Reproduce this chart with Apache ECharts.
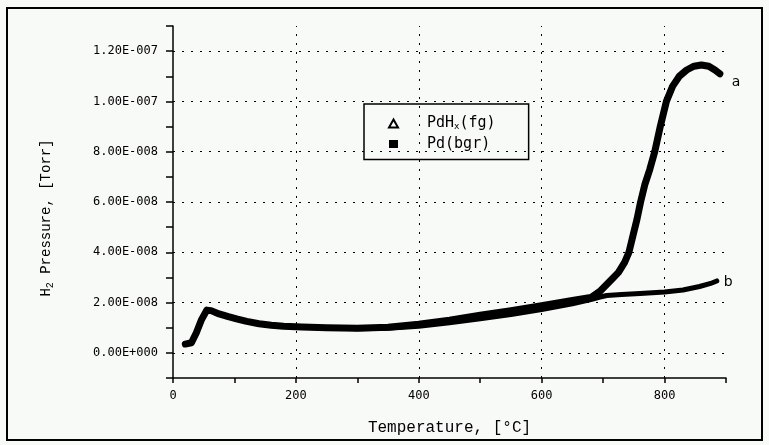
<!DOCTYPE html>
<html>
<head>
<meta charset="utf-8">
<script src="https://cdn.jsdelivr.net/npm/echarts@6/dist/echarts.min.js"></script>
<style>
  html, body { margin: 0; padding: 0; background: #f8faf7; }
  #chart { width: 769px; height: 445px; }
</style>
</head>
<body>
<div id="chart"></div>
<script>
// pressures are in units of 1e-8 Torr
var tempA = [20, 30, 38, 46, 55, 62, 75, 90, 105, 120, 140, 160, 180, 210, 250, 300, 350, 400, 450, 500, 550, 600, 650, 680,
  695, 705, 715, 725, 735, 742, 748, 755, 761, 768, 776, 784, 793, 803, 813, 824, 836, 848, 860, 872, 882, 890];
var presA = [0.35, 0.4, 0.8, 1.3, 1.7, 1.68, 1.55, 1.44, 1.34, 1.25, 1.16, 1.1, 1.06, 1.03, 1.0, 0.98, 1.02, 1.14, 1.3, 1.5, 1.68, 1.88, 2.08, 2.2,
  2.45, 2.7, 2.95, 3.2, 3.6, 4.0, 4.6, 5.3, 6.0, 6.7, 7.3, 8.0, 9.0, 10.0, 10.6, 11.0, 11.25, 11.4, 11.45, 11.4, 11.25, 11.1];

var tempB = [20, 30, 38, 46, 55, 62, 75, 90, 105, 120, 140, 160, 180, 210, 250, 300, 350, 400, 450, 500, 550, 600, 650, 680,
  695, 706, 730, 760, 800, 830, 857, 875, 885];
var presB = [0.35, 0.4, 0.8, 1.3, 1.7, 1.68, 1.55, 1.44, 1.34, 1.25, 1.16, 1.1, 1.06, 1.03, 1.0, 0.96, 0.98, 1.06, 1.2, 1.36, 1.52, 1.72, 1.95, 2.12,
  2.22, 2.28, 2.32, 2.36, 2.42, 2.5, 2.64, 2.76, 2.86];

var xTickLabels = ['0', '200', '400', '600', '800'];
var xGrid = [200, 400, 600, 800];
var yTickLabels = ['0.00E+000', '2.00E-008', '4.00E-008', '6.00E-008', '8.00E-008', '1.00E-007', '1.20E-007'];
var yGrid = [0, 2, 4, 6, 8, 10, 12];

function pairs(xs, ys) {
  return xs.map(function (x, i) { return [x, ys[i]]; });
}

var chart = echarts.init(document.getElementById('chart'));

// dotted grid only at the labelled ticks
var gridLines = [];
yGrid.forEach(function (v) { gridLines.push({ yAxis: v }); });
xGrid.forEach(function (v) { gridLines.push({ xAxis: v }); });

var option = {
  animation: false,
  backgroundColor: '#f8faf7',
  graphic: [{
    type: 'rect',
    shape: { x: 7, y: 8, width: 755, height: 432 },
    style: { fill: 'none', stroke: '#000', lineWidth: 2 },
    silent: true
  }],
  grid: { left: 173, right: 43, top: 26, bottom: 67 },
  legend: {
    orient: 'vertical',
    left: 364,
    top: 104,
    padding: [12, 33, 8, 24],
    itemGap: 5,
    itemWidth: 9,
    itemHeight: 8,
    borderColor: '#000',
    borderWidth: 1.5,
    borderRadius: 0,
    textStyle: {
      color: '#000',
      padding: [0, 0, 0, 24],
      rich: {
        t: { fontFamily: 'DejaVu Sans Mono', fontSize: 15, color: '#000', lineHeight: 16 },
        s: { fontFamily: 'DejaVu Sans Mono', fontSize: 9, color: '#000', verticalAlign: 'bottom', padding: [7, 0, 0, 0] }
      }
    },
    formatter: function (name) {
      if (name === 'PdHx(fg)') return '{t|PdH}{s|x}{t|(fg)}';
      return '{t|' + name + '}';
    },
    data: [
      { name: 'PdHx(fg)', icon: 'emptyTriangle', itemStyle: { color: '#000', borderColor: '#000', borderWidth: 1.2 } },
      { name: 'Pd(bgr)', icon: 'rect' }
    ]
  },
  xAxis: {
    type: 'value',
    min: 0,
    max: 900,
    interval: 100,
    name: 'Temperature, [°C]',
    nameLocation: 'middle',
    nameGap: 42,
    nameTextStyle: { fontFamily: 'Liberation Mono', fontSize: 16, color: '#000' },
    axisLine: { onZero: false, lineStyle: { color: '#000', width: 1.5 } },
    axisTick: { length: 5, lineStyle: { color: '#000', width: 1.5 } },
    splitLine: { show: false },
    axisLabel: {
      margin: 12,
      fontFamily: 'DejaVu Sans Mono',
      fontSize: 12,
      color: '#000',
      formatter: function (v) {
        var k = Math.round(v);
        return (k % 200 === 0 && k <= 800) ? xTickLabels[k / 200] : '';
      }
    }
  },
  yAxis: {
    type: 'value',
    min: -1,
    max: 13,
    interval: 1,
    name: '{a|H}{s|2}{a| Pressure, [Torr]}',
    nameLocation: 'middle',
    nameGap: 118,
    nameTextStyle: {
      padding: [0, 32, 0, 0],
      rich: {
        a: { fontFamily: 'Liberation Mono', fontSize: 14, color: '#000' },
        s: { fontFamily: 'Liberation Mono', fontSize: 10, color: '#000', verticalAlign: 'bottom', padding: [8, 0, 0, 0] }
      }
    },
    axisLine: { onZero: false, lineStyle: { color: '#000', width: 1.5 } },
    axisTick: { length: 7, lineStyle: { color: '#000', width: 1.5 } },
    splitLine: { show: false },
    axisLabel: {
      margin: 15,
      fontFamily: 'DejaVu Sans Mono',
      fontSize: 12,
      color: '#000',
      formatter: function (v) {
        var k = Math.round(v);
        return (k >= 0 && k <= 12 && k % 2 === 0) ? yTickLabels[k / 2] : '';
      }
    }
  },
  series: [{
    name: 'Pd(bgr)',
    type: 'line',
    symbol: 'rect',
    showSymbol: false,
    color: '#000',
    lineStyle: { color: '#000', width: 5, join: 'round', cap: 'round' },
    data: pairs(tempB, presB),
    endLabel: {
      show: true,
      formatter: 'b',
      distance: 7,
      offset: [0, 1],
      fontFamily: 'DejaVu Sans',
      fontSize: 14,
      color: '#000'
    },
    markLine: {
      silent: true,
      symbol: 'none',
      label: { show: false },
      lineStyle: { color: '#000', width: 1, type: [2, 7] },
      data: gridLines
    },
    z: 2
  }, {
    name: 'PdHx(fg)',
    type: 'line',
    symbol: 'triangle',
    showSymbol: false,
    color: '#000',
    lineStyle: { color: '#000', width: 7, join: 'round', cap: 'round' },
    data: pairs(tempA, presA),
    endLabel: {
      show: true,
      formatter: 'a',
      distance: 12,
      offset: [0, 9],
      fontFamily: 'DejaVu Sans',
      fontSize: 14,
      color: '#000'
    },
    z: 3
  }]
};

chart.setOption(option);
</script>
</body>
</html>
